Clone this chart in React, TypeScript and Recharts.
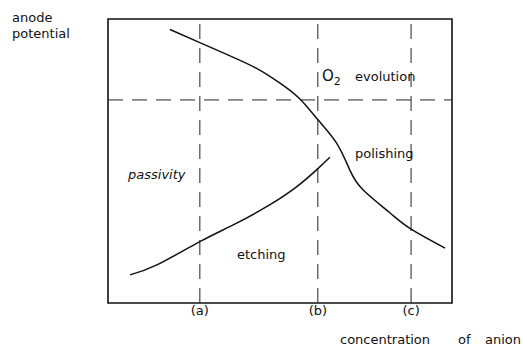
import React from "react";
import {
  LineChart,
  Line,
  XAxis,
  YAxis,
  ReferenceLine,
  ReferenceArea,
} from "recharts";

// boundary between passivity and O2 evolution / polishing
const upperCurve = [
  { x: 18.0, y: 96.3 },
  { x: 26.7, y: 91.7 },
  { x: 35.5, y: 87.0 },
  { x: 43.2, y: 82.6 },
  { x: 50.0, y: 77.4 },
  { x: 55.8, y: 71.8 },
  { x: 61.1, y: 64.4 },
  { x: 66.5, y: 56.2 },
  { x: 70.3, y: 46.8 },
  { x: 74.2, y: 39.8 },
  { x: 82.0, y: 31.7 },
  { x: 88.0, y: 26.1 },
  { x: 98.0, y: 19.3 },
];

// boundary between passivity and etching
const lowerCurve = [
  { x: 6.4, y: 9.9 },
  { x: 14.2, y: 13.4 },
  { x: 26.7, y: 21.6 },
  { x: 36.4, y: 27.5 },
  { x: 46.1, y: 33.9 },
  { x: 54.9, y: 41.0 },
  { x: 61.1, y: 47.4 },
  { x: 64.5, y: 51.3 },
];

const concentrations = [26.7, 61.0, 88.1];
const concentrationLabels = ["(a)", "(b)", "(c)"];
const o2Potential = 71.5;

const font = "'DejaVu Sans', sans-serif";
const ink = "#111";

const label = (text: React.ReactNode, left: number, top: number, extra?: React.CSSProperties) => (
  <div
    style={{
      position: "absolute",
      left,
      top,
      fontFamily: font,
      fontSize: 13,
      color: ink,
      whiteSpace: "pre",
      lineHeight: 1,
      ...extra,
    }}
  >
    {text}
  </div>
);

export default function App() {
  return (
    <div style={{ position: "absolute", left: 0, top: 0, width: 523, height: 347, background: "#fff" }}>
      <LineChart
        width={523}
        height={347}
        margin={{ top: 19, right: 71, bottom: 24, left: 108 }}
      >
        <XAxis
          type="number"
          dataKey="x"
          domain={[0, 100]}
          ticks={concentrations}
          tickFormatter={(v: number) => concentrationLabels[concentrations.indexOf(v)] ?? ""}
          tickLine={false}
          axisLine={false}
          tickSize={0}
          tickMargin={3}
          height={20}
          tick={{ fontFamily: font, fontSize: 13, fill: ink }}
        />
        <YAxis type="number" domain={[0, 100]} hide />
        <ReferenceArea
          x1={0}
          x2={100}
          y1={0}
          y2={100}
          stroke={ink}
          strokeWidth={1.6}
          fill="none"
          fillOpacity={0}
        />
        {concentrations.map((c) => (
          <ReferenceLine key={c} x={c} stroke="#222" strokeDasharray="15 9" strokeWidth={1} />
        ))}
        <ReferenceLine y={o2Potential} stroke="#222" strokeDasharray="15 9" strokeWidth={1} />
        <Line
          data={upperCurve}
          dataKey="y"
          type="natural"
          stroke={ink}
          strokeWidth={1.5}
          dot={false}
          isAnimationActive={false}
        />
        <Line
          data={lowerCurve}
          dataKey="y"
          type="natural"
          stroke={ink}
          strokeWidth={1.5}
          dot={false}
          isAnimationActive={false}
        />
      </LineChart>
      {label("anode", 12, 11)}
      {label("potential", 12, 27)}
      {label(
        <span>
          O<sub style={{ fontSize: 11, verticalAlign: -4 }}>2</sub>
        </span>,
        322,
        69,
        { fontSize: 15 }
      )}
      {label("evolution", 355, 70)}
      {label("passivity", 128, 168, { fontStyle: "italic" })}
      {label("polishing", 355, 147)}
      {label("etching", 237, 248)}
      {label("concentration", 340, 333)}
      {label("of", 458, 333)}
      {label("anion", 485, 333)}
    </div>
  );
}
